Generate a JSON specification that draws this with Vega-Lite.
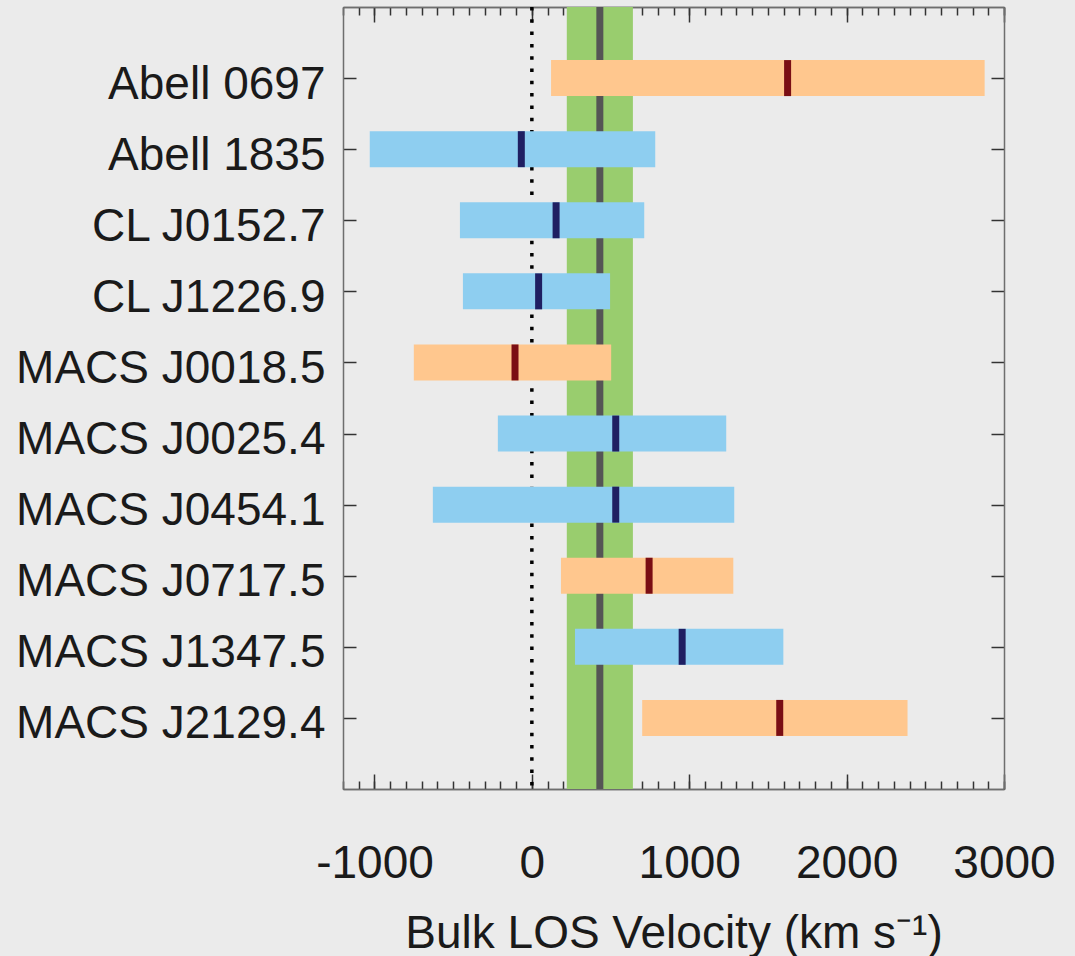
{
  "$schema": "https://vega.github.io/schema/vega-lite/v6.json",
  "background": "#ebebeb",
  "autosize": {"type": "none"},
  "padding": {"left": 343, "top": 7, "right": 71, "bottom": 167},
  "width": 661,
  "height": 782,
  "datasets": {
    "clusters": [
      {"cluster": "Abell 0697", "set": "A", "lo": 122, "hi": 2877, "best": 1625},
      {"cluster": "Abell 1835", "set": "B", "lo": -1030, "hi": 784, "best": -67},
      {"cluster": "CL J0152.7", "set": "B", "lo": -457, "hi": 714, "best": 154},
      {"cluster": "CL J1226.9", "set": "B", "lo": -438, "hi": 497, "best": 43},
      {"cluster": "MACS J0018.5", "set": "A", "lo": -750, "hi": 504, "best": -107},
      {"cluster": "MACS J0025.4", "set": "B", "lo": -216, "hi": 1235, "best": 533},
      {"cluster": "MACS J0454.1", "set": "B", "lo": -629, "hi": 1286, "best": 533},
      {"cluster": "MACS J0717.5", "set": "A", "lo": 185, "hi": 1280, "best": 745},
      {"cluster": "MACS J1347.5", "set": "B", "lo": 274, "hi": 1598, "best": 955},
      {"cluster": "MACS J2129.4", "set": "A", "lo": 701, "hi": 2387, "best": 1575}
    ],
    "band": [{"lo": 222, "hi": 642, "mid": 432}],
    "zero": [{"v": 0}]
  },
  "resolve": {"axis": {"x": "independent", "y": "independent"}, "scale": {"color": "independent"}},
  "layer": [
    {
      "data": {"name": "band"},
      "mark": {"type": "rect", "color": "#99cd6e"},
      "encoding": {
        "x": {"field": "lo", "type": "quantitative",
          "scale": {"domain": [-1200, 3000], "nice": false, "zero": false},
          "axis": {"orient": "bottom", "values": [-1000, 0, 1000, 2000, 3000], "tickSize": -15, "labelPadding": 67,
            "labelFlush": false, "labelOverlap": false, "labelBaseline": "top", "labelExpr": "'' + datum.value",
            "title": "Bulk LOS Velocity (km s\u207b\u00b9)", "titleY": 158, "titleBaseline": "alphabetic", "titleAnchor": "middle"}},
        "x2": {"field": "hi"}
      }
    },
    {
      "data": {"name": "band"},
      "mark": {"type": "rule", "color": "#555555", "strokeWidth": 7},
      "encoding": {
        "x": {"field": "mid", "type": "quantitative",
          "axis": {"orient": "bottom", "values": [-1200,-1100,-1000,-900,-800,-700,-600,-500,-400,-300,-200,-100,0,100,200,300,400,500,600,700,800,900,1000,1100,1200,1300,1400,1500,1600,1700,1800,1900,2000,2100,2200,2300,2400,2500,2600,2700,2800,2900,3000],
            "tickSize": -8, "labels": false, "title": null}}
      }
    },
    {
      "data": {"name": "zero"},
      "mark": {"type": "rule", "color": "#000000", "strokeWidth": 3.5, "strokeDash": [3.5, 8.8], "strokeCap": "butt"},
      "encoding": {
        "x": {"field": "v", "type": "quantitative",
          "axis": {"orient": "top", "values": [-1000, 0, 1000, 2000, 3000], "tickSize": -15, "labels": false, "title": null}}
      }
    },
    {
      "data": {"name": "clusters"},
      "mark": {"type": "bar", "height": 36},
      "encoding": {
        "x": {"field": "lo", "type": "quantitative",
          "axis": {"orient": "top", "values": [-1200,-1100,-1000,-900,-800,-700,-600,-500,-400,-300,-200,-100,0,100,200,300,400,500,600,700,800,900,1000,1100,1200,1300,1400,1500,1600,1700,1800,1900,2000,2100,2200,2300,2400,2500,2600,2700,2800,2900,3000],
            "tickSize": -8, "labels": false, "title": null}},
        "x2": {"field": "hi"},
        "y": {"field": "cluster", "type": "nominal",
          "scale": {"type": "point", "padding": 1, "domain": ["Abell 0697","Abell 1835","CL J0152.7","CL J1226.9","MACS J0018.5","MACS J0025.4","MACS J0454.1","MACS J0717.5","MACS J1347.5","MACS J2129.4"]},
          "axis": {"orient": "left", "tickSize": -13, "labelPadding": 31, "labelLimit": 0, "title": null, "labelBaseline": "middle", "labelOffset": 6}},
        "color": {"field": "set", "type": "nominal", "scale": {"domain": ["A", "B"], "range": ["#ffc78e", "#8ecef0"]}, "legend": null}
      }
    },
    {
      "data": {"name": "clusters"},
      "mark": {"type": "tick", "size": 36, "thickness": 7, "opacity": 1},
      "encoding": {
        "x": {"field": "best", "type": "quantitative", "axis": null},
        "y": {"field": "cluster", "type": "nominal",
          "axis": {"orient": "right", "tickSize": -13, "labels": false, "title": null}},
        "color": {"field": "set", "type": "nominal", "scale": {"domain": ["A", "B"], "range": ["#7a0e14", "#1f1f62"]}, "legend": null}
      }
    }
  ],
  "config": {
    "font": "Liberation Sans",
    "view": {"stroke": null},
    "axis": {
      "grid": false,
      "domainColor": "#6e6e6e",
      "domainWidth": 1.5,
      "tickColor": "#333333",
      "tickWidth": 1.5,
      "labelFont": "Liberation Sans",
      "labelFontSize": 46,
      "labelColor": "#1a1a1a",
      "titleFont": "Liberation Sans",
      "titleFontSize": 46,
      "titleFontWeight": "normal",
      "titleColor": "#1a1a1a"
    }
  }
}
